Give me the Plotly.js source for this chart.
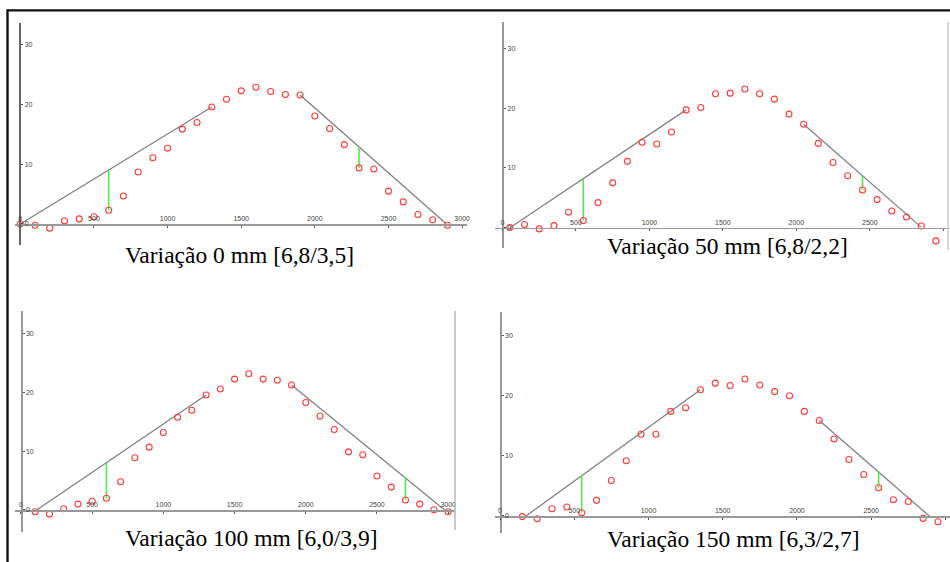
<!DOCTYPE html>
<html><head><meta charset="utf-8">
<script src="https://cdn.plot.ly/plotly-3.0.1.min.js"></script>
<style>html,body{margin:0;padding:0;background:#fff;} #chart{width:950px;height:562px;}</style>
</head><body><div id="chart"></div>
<script>
// ---------- DATA ----------
const captions = ["Variação 0 mm [6,8/3,5]", "Variação 50 mm [6,8/2,2]", "Variação 100 mm [6,0/3,9]", "Variação 150 mm [6,3/2,7]"];
const xTickVals = [0, 500, 1000, 1500, 2000, 2500, 3000];
const yTickVals = [0, 10, 20, 30];

// Panel 1 — Variação 0 mm
const p1X = [0,100,200,300,400,500,600,700,800,900,1000,1100,1200,1300,1400,1500,1600,1700,1800,1900,2000,2100,2200,2300,2400,2500,2600,2700,2800,2900];
const p1Y = [0,-0.2,-0.7,0.55,0.85,1.2,2.3,4.7,8.7,11.1,12.7,15.9,17.0,19.6,20.9,22.3,22.9,22.2,21.7,21.6,18.1,16.0,13.3,9.4,9.2,5.5,3.7,1.6,0.7,-0.2];
const p1LeftX = [0, 1300],   p1LeftY = [0, 19.6];
const p1RightX = [1900, 2890], p1RightY = [21.6, 0.1];
const p1GreenX = [600, 600, null, 2300, 2300];
const p1GreenY = [2.3, 9.05, null, 9.4, 12.9];

// Panel 2 — Variação 50 mm
const p2X = [50,150,250,350,450,550,650,750,850,950,1050,1150,1250,1350,1450,1550,1650,1750,1850,1950,2050,2150,2250,2350,2450,2550,2650,2750,2850,2950];
const p2Y = [0.05,0.55,-0.2,0.35,2.6,1.2,4.2,7.5,11.1,14.3,14.0,16.0,19.7,20.1,22.4,22.5,23.2,22.4,21.5,19.0,17.3,14.1,10.9,8.7,6.3,4.7,2.8,1.8,0.3,-2.2];
const p2LeftX = [50, 1250],   p2LeftY = [0, 19.7];
const p2RightX = [2050, 2850], p2RightY = [17.3, 0.1];
const p2GreenX = [550, 550, null, 2450, 2450];
const p2GreenY = [1.2, 8.2, null, 6.3, 8.7];

// Panel 3 — Variação 100 mm
const p3X = [100,200,300,400,500,600,700,800,900,1000,1100,1200,1300,1400,1500,1600,1700,1800,1900,2000,2100,2200,2300,2400,2500,2600,2700,2800,2900,3000];
const p3Y = [-0.3,-0.7,0.2,1.0,1.5,2.0,4.8,8.9,10.7,13.2,15.8,17.0,19.6,20.6,22.3,23.2,22.3,22.1,21.3,18.3,16.0,13.7,9.9,9.4,5.8,3.9,1.7,1.0,0.05,-0.3];
const p3LeftX = [110, 1300],  p3LeftY = [0, 19.6];
const p3RightX = [1900, 2975], p3RightY = [21.3, 0];
const p3GreenX = [600, 600, null, 2700, 2700];
const p3GreenY = [2.0, 8.0, null, 1.7, 5.6];

// Panel 4 — Variação 150 mm
const p4X = [150,250,350,450,550,650,750,850,950,1050,1150,1250,1350,1450,1550,1650,1750,1850,1950,2050,2150,2250,2350,2450,2550,2650,2750,2850,2950];
const p4Y = [-0.1,-0.45,1.2,1.5,0.55,2.6,5.9,9.2,13.6,13.6,17.4,18.0,21.0,22.1,21.7,22.8,21.8,20.7,20.0,17.4,15.9,12.8,9.4,6.9,4.7,2.7,2.4,-0.4,-0.95];
const p4LeftX = [175, 1350],  p4LeftY = [0, 21.0];
const p4RightX = [2150, 2905], p4RightY = [15.9, -0.3];
const p4GreenX = [550, 550, null, 2550, 2550];
const p4GreenY = [0.55, 6.8, null, 4.7, 7.5];

// ---------- GEOMETRY / STYLE ----------
const W = 950, H = 562;
const fx = p => p / W;
const fy = p => 1 - p / H;

const panels = [
  {X:p1X, Y:p1Y, LX:p1LeftX, LY:p1LeftY, RX:p1RightX, RY:p1RightY, GX:p1GreenX, GY:p1GreenY,
   xd:[15,467], yd:[23,245], xr:[-36,3033], yr:[-3.52,33.67], ycol:'#666', yw:2, cap:[239,255]},
  {X:p2X, Y:p2Y, LX:p2LeftX, LY:p2LeftY, RX:p2RightX, RY:p2RightY, GX:p2GreenX, GY:p2GreenY,
   xd:[495,950], yd:[21.7,248], xr:[-51,3046], yr:[-3.39,34.45], ycol:'#999', yw:1.6, cap:[727.7,246.5]},
  {X:p3X, Y:p3Y, LX:p3LeftX, LY:p3LeftY, RX:p3RightX, RY:p3RightY, GX:p3GreenX, GY:p3GreenY,
   xd:[15,455], yd:[310.7,531.7], xr:[-42,3048], yr:[-3.70,33.95], ycol:'#999', yw:1.6, cap:[251.7,538]},
  {X:p4X, Y:p4Y, LX:p4LeftX, LY:p4LeftY, RX:p4RightX, RY:p4RightY, GX:p4GreenX, GY:p4GreenY,
   xd:[495,950], yd:[311.7,533.3], xr:[-34,3031], yr:[-2.88,33.99], ycol:'#999', yw:1.6, cap:[733.3,538.5]}
];

const traces = [];
const layout = {
  width: W, height: H, margin: {l:0, r:0, t:0, b:0},
  paper_bgcolor: '#fff', plot_bgcolor: 'rgba(0,0,0,0)',
  showlegend: false, annotations: [], shapes: []
};
const tickFont = {family: 'Liberation Sans, Arial, sans-serif', size: 7, color: '#444'};

panels.forEach((p, i) => {
  const n = i === 0 ? '' : String(i + 1);
  const xa = 'x' + n, ya = 'y' + n;
  const xdom = [fx(p.xd[0]), fx(p.xd[1])];
  const ydom = [fy(p.yd[1]), fy(p.yd[0])];
  const xPos = ydom[0] + (0 - p.yr[0]) / (p.yr[1] - p.yr[0]) * (ydom[1] - ydom[0]);
  const yPos = xdom[0] + (0 - p.xr[0]) / (p.xr[1] - p.xr[0]) * (xdom[1] - xdom[0]);

  layout['xaxis' + n] = {
    domain: xdom, range: p.xr, anchor: 'free', position: xPos, side: 'top',
    showline: true, linecolor: '#999', linewidth: 1.6, showgrid: false, zeroline: false,
    tickvals: xTickVals, ticktext: xTickVals.map(String), ticks: 'inside', ticklen: 2,
    tickcolor: '#555', tickfont: tickFont, fixedrange: true
  };
  layout['yaxis' + n] = {
    domain: ydom, range: p.yr, anchor: 'free', position: yPos, side: 'right',
    showline: true, linecolor: p.ycol, linewidth: p.yw, showgrid: false, zeroline: false,
    tickvals: yTickVals, ticktext: yTickVals.map(String), ticks: 'outside', ticklen: 2,
    tickcolor: '#555', tickfont: tickFont, fixedrange: true
  };

  traces.push({x: p.LX, y: p.LY, xaxis: xa, yaxis: ya, mode: 'lines',
               line: {color: '#808080', width: 1.3}, hoverinfo: 'skip'});
  traces.push({x: p.RX, y: p.RY, xaxis: xa, yaxis: ya, mode: 'lines',
               line: {color: '#808080', width: 1.3}, hoverinfo: 'skip'});
  traces.push({x: p.GX, y: p.GY, xaxis: xa, yaxis: ya, mode: 'lines',
               line: {color: '#44ee44', width: 1.5}, hoverinfo: 'skip'});
  traces.push({x: p.X, y: p.Y, xaxis: xa, yaxis: ya, mode: 'markers',
               marker: {symbol: 'circle-open', size: 6, color: '#ff3b3b', line: {width: 1.1}},
               hoverinfo: 'skip', cliponaxis: false});

  layout.annotations.push({
    text: captions[i], xref: 'paper', yref: 'paper', x: fx(p.cap[0]), y: fy(p.cap[1]),
    xanchor: 'center', yanchor: 'middle', showarrow: false,
    font: {family: 'Liberation Serif, Times New Roman, serif', size: 23.5, color: '#000'}
  });
});

// frame lines of the figure and the light right-hand borders of two panels
layout.shapes.push({type:'line', xref:'paper', yref:'paper', x0:fx(7), x1:1, y0:fy(10.3), y1:fy(10.3), line:{color:'#111', width:2.2}});
layout.shapes.push({type:'line', xref:'paper', yref:'paper', x0:fx(7.5), x1:fx(7.5), y0:fy(9.5), y1:0, line:{color:'#111', width:2.4}});
layout.shapes.push({type:'line', xref:'paper', yref:'paper', x0:fx(948), x1:fx(948), y0:fy(22), y1:fy(250), line:{color:'#d8d8d8', width:2}});
layout.shapes.push({type:'line', xref:'paper', yref:'paper', x0:fx(455), x1:fx(455), y0:fy(311), y1:fy(530), line:{color:'#b8b8b8', width:1.5}});

Plotly.newPlot('chart', traces, layout, {displayModeBar: false, staticPlot: true});
</script>
</body></html>
